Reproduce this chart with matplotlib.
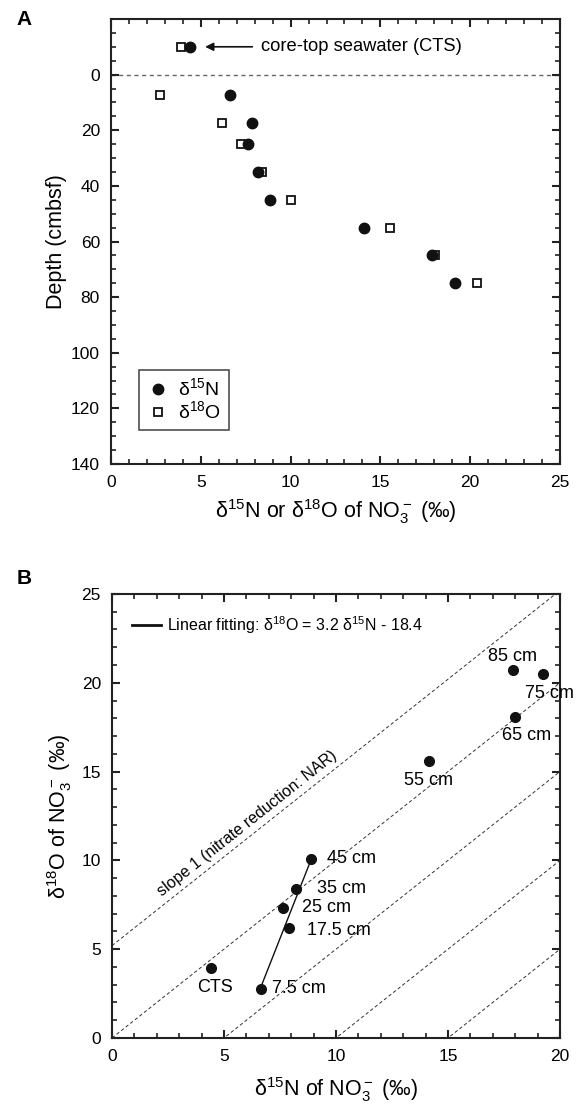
import numpy as np
import matplotlib.pyplot as plt
from matplotlib.ticker import MultipleLocator

plt.rcParams['font.family'] = ['Liberation Sans', 'DejaVu Sans']
plt.rcParams['mathtext.fontset'] = 'custom'
plt.rcParams['mathtext.rm'] = 'Liberation Sans'
plt.rcParams['mathtext.it'] = 'Liberation Sans:italic'

# panel A: depth profile
depth = [-10, 7.5, 17.5, 25, 35, 45, 55, 65, 75]
d15n_a = [4.39, 6.65, 7.85, 7.6, 8.18, 8.85, 14.06, 17.85, 19.17]
d18o_a = [3.89, 2.74, 6.18, 7.26, 8.39, 10.04, 15.54, 18.04, 20.4]

# panel B: dual isotope plot
labels_b = ['CTS', '7.5 cm', '17.5 cm', '25 cm', '35 cm', '45 cm',
            '55 cm', '65 cm', '75 cm', '85 cm']
d15n_b = [4.42, 6.65, 7.89, 7.63, 8.23, 8.88, 14.14, 17.98, 19.24, 17.89]
d18o_b = [3.92, 2.76, 6.21, 7.3, 8.39, 10.08, 15.61, 18.09, 20.48, 20.72]

fit_slope, fit_icpt = 3.2, -18.4
slope1_icpts = [5.2, 0, -5, -10, -15]

# label offsets (points), only layout
lab_off = [(-10, -14), (8, 0.5), (13.5, -1.7), (13.5, 0.7), (14.7, 0.5),
           (11.3, 0), (-17.8, -14), (-9.4, -13.2), (-13, -13.7), (-17.8, 9.4)]

fig = plt.figure(figsize=(5.8, 11.04), dpi=100)
axA = fig.add_axes([0.1914, 0.5797, 0.7741, 0.4031])
axB = fig.add_axes([0.1931, 0.0598, 0.7724, 0.4022])

def style(ax):
    for s in ax.spines.values():
        s.set_linewidth(1.5)
        s.set_color('#222222')
    ax.tick_params(which='both', direction='in', top=True, right=True,
                   labelsize=12.5, color='#222222', pad=8)
    ax.tick_params(which='major', length=6, width=1.5)
    ax.tick_params(which='minor', length=3.5, width=1.2)

# ---- A ----
axA.axhline(0, color='#666666', lw=1, ls=(0, (3, 2.5)), zorder=1)
axA.plot(d15n_a, depth, 'o', color='#111111', ms=7.5, label='δ$^{15}$N', zorder=3)
axA.plot(d18o_a, depth, 's', mfc='white', mec='#111111', mew=1.3, ms=5.5,
         label='δ$^{18}$O', zorder=2)
axA.set_xlim(0, 25)
axA.set_ylim(140, -20)
axA.xaxis.set_major_locator(MultipleLocator(5))
axA.xaxis.set_minor_locator(MultipleLocator(1))
axA.set_yticks(np.arange(0, 141, 20))
axA.yaxis.set_minor_locator(MultipleLocator(5))
style(axA)
axA.set_xlabel('δ$^{15}$N or δ$^{18}$O of NO$_3^-$ (‰)', fontsize=15.5, labelpad=5)
axA.set_ylabel('Depth (cmbsf)', fontsize=15.5, labelpad=3)
axA.annotate('core-top seawater (CTS)', xy=(d15n_a[0], depth[0]),
             xytext=(51, 0), textcoords='offset points', va='center',
             fontsize=13.2,
             arrowprops=dict(arrowstyle='-|>', color='#111111', lw=1.2,
                             shrinkA=4, shrinkB=11, mutation_scale=12))
leg = axA.legend(loc='lower left', bbox_to_anchor=(0.063, 0.076),
                 fontsize=14, frameon=True, fancybox=False, edgecolor='#222222',
                 handletextpad=0.5, borderpad=0.4, labelspacing=0.05,
                 handlelength=1.1, borderaxespad=0)
leg.get_frame().set_linewidth(1.2)

# ---- B ----
xs = np.array([0, 20])
for c in slope1_icpts:
    axB.plot(xs, xs + c, color='#333333', lw=0.7, ls=(0, (3.5, 2.5)), zorder=1)
axB.plot(d15n_b, d18o_b, 'o', color='#111111', ms=7, zorder=3)
fx = np.array([d15n_b[1], d15n_b[5]])
fit_line, = axB.plot(fx, fit_slope * fx + fit_icpt, color='#111111', lw=1, zorder=2,
                     label='Linear fitting: δ$^{18}$O = 3.2 δ$^{15}$N - 18.4')
for lab, x, y, off in zip(labels_b, d15n_b, d18o_b, lab_off):
    axB.annotate(lab, xy=(x, y), xytext=off, textcoords='offset points',
                 ha='left', va='center', fontsize=13)
axB.text(2.3, 2.3 + slope1_icpts[0] + 0.35, 'slope 1 (nitrate reduction: NAR)',
         rotation=45, transform_rotates_text=True, rotation_mode='anchor',
         ha='left', va='bottom', fontsize=11.5)
axB.set_xlim(0, 20)
axB.set_ylim(0, 25)
axB.xaxis.set_major_locator(MultipleLocator(5))
axB.xaxis.set_minor_locator(MultipleLocator(1))
axB.yaxis.set_major_locator(MultipleLocator(5))
axB.yaxis.set_minor_locator(MultipleLocator(1))
style(axB)
axB.set_xlabel('δ$^{15}$N of NO$_3^-$ (‰)', fontsize=15.5, labelpad=8)
axB.set_ylabel('δ$^{18}$O of NO$_3^-$ (‰)', fontsize=15.5, labelpad=5)
legB = axB.legend(handles=[fit_line], loc='upper left', frameon=False,
                  fontsize=11.5, handlelength=1.8, handletextpad=0.4,
                  borderaxespad=0.85)
legB.legend_handles[0].set_linewidth(2)

fig.text(0.042, 0.982, 'A', fontsize=15, fontweight='bold', va='center', ha='center')
fig.text(0.042, 0.476, 'B', fontsize=15, fontweight='bold', va='center', ha='center')

fig.savefig('out.png', dpi=100)
